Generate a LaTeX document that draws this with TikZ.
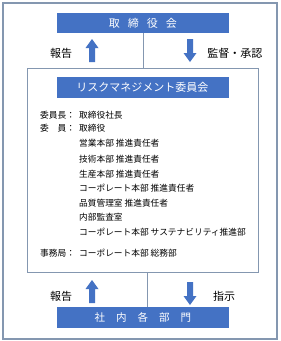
\documentclass[tikz,border=0pt]{standalone}
\usepackage{fontspec}
\setmainfont{Noto Sans CJK JP}
\usepackage{xcolor}
\usetikzlibrary{positioning}
\definecolor{boxblue}{HTML}{4472C4}
\definecolor{framegray}{HTML}{8497B0}
\tikzstyle{bluebox} = [fill=boxblue, text=white, minimum width=172pt, minimum height=20pt, inner sep=0pt]
\tikzstyle{member} = [anchor=west, inner sep=0pt, font=\fontsize{8.7}{10}\selectfont]
\tikzstyle{flowlabel} = [inner sep=0pt, font=\fontsize{11}{12}\selectfont]
\tikzstyle{vline} = [draw=framegray, line width=0.8pt]
\tikzset{uparrow/.pic={\fill[boxblue] (-3,0) -- (-3,-14) -- (-6.5,-14) -- (0,-23) -- (6.5,-14) -- (3,-14) -- (3,0) -- cycle;}}

\begin{document}
\begin{tikzpicture}[x=1pt,y=-1pt]
\useasboundingbox[fill=white] (0,0) rectangle (281,341);
\draw[framegray, line width=1.2pt] (3,3) rectangle (277,339);
%
\node[bluebox, font=\fontsize{11}{12}\selectfont] (board) at (143,23)
  {取\hspace{8pt}締\hspace{8pt}役\hspace{8pt}会};
\node[draw=framegray, line width=0.8pt, minimum width=231pt, minimum height=204pt] (committee) at (142.5,170) {};
\node[bluebox, minimum height=21pt, font=\fontsize{11}{12}\selectfont] (rmc) at (142.5,87.5) {リスクマネジメント委員会};
\node[bluebox, minimum height=21pt, font=\fontsize{10.5}{12}\selectfont] (depts) at (143,317.5)
  {社\hspace{11pt}内\hspace{11pt}各\hspace{11pt}部\hspace{11pt}門};
%
\draw[vline] (board.south) -- (board.south |- committee.north);
\draw[vline] ([xshift=4pt]depts.north) -- ([xshift=4pt]depts.north |- committee.south);
%
\pic at (92,62) {uparrow};
\pic[rotate=180] at (190,39) {uparrow};
\pic at (92,303) {uparrow};
\pic[rotate=180] at (190,282) {uparrow};
\node[flowlabel] (report1) at (61,53) {報告};
\node[flowlabel] (supervise) at (235,53) {監督・承認};
\node[flowlabel] (report2) at (61,296) {報告};
\node[flowlabel] (instruct) at (224,296) {指示};
%
\node[member] (chairlab) at (40,115) {委員長：};
\node[member] (chair) at (79,115) {取締役社長};
\node[member] (memlab) at (40,128.5) {委\hspace{1em}員：};
\node[member] (mem1) at (79,128.5) {取締役};
\node[member] (mem2) at (79,143.5) {営業本部 推進責任者};
\node[member] (mem3) at (79,159) {技術本部 推進責任者};
\node[member] (mem4) at (79,174) {生産本部 推進責任者};
\node[member] (mem5) at (79,188.5) {コーポレート本部 推進責任者};
\node[member] (mem6) at (79,203) {品質管理室 推進責任者};
\node[member] (mem7) at (79,217.5) {内部監査室};
\node[member] (mem8) at (79,232) {コーポレート本部 サステナビリティ推進部};
\node[member] (seclab) at (40,253) {事務局：};
\node[member] (sec) at (79,253) {コーポレート本部 総務部};
\end{tikzpicture}
\end{document}
